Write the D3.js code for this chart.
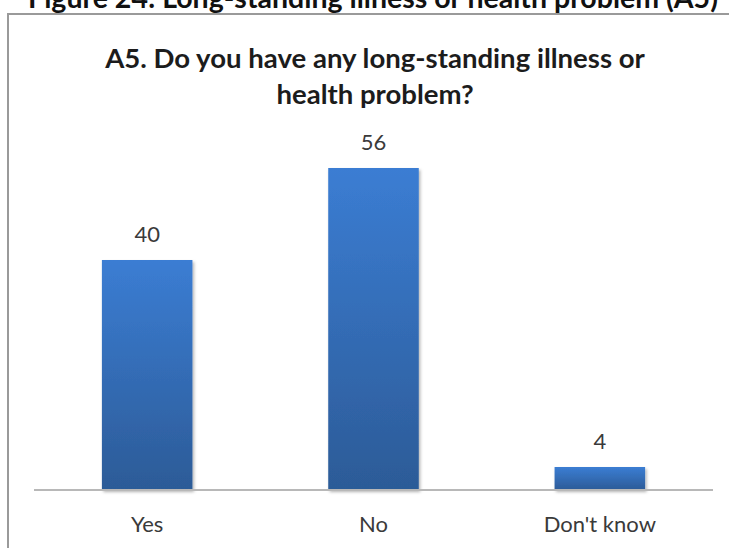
<!DOCTYPE html>
<html>
<head>
<meta charset="utf-8">
<script src="https://cdn.jsdelivr.net/npm/d3@7"></script>
<style>
  html, body { margin: 0; padding: 0; background: #fff; }
  svg { display: block; }
</style>
</head>
<body>
<div id="chart"></div>
<script>
// Survey responses, percent of respondents
const categories = ["Yes", "No", "Don't know"];
const values = [40, 56, 4];
const figureTitle = "Figure 24: Long-standing illness or health problem (A5)";
const titleLines = ["A5. Do you have any long-standing illness or", "health problem?"];

const W = 729, H = 548;
const FONT = "Lato, 'Open Sans', 'DejaVu Sans', sans-serif";

const svg = d3.select("#chart").append("svg")
  .attr("width", W).attr("height", H);

const defs = svg.append("defs");
const grad = defs.append("linearGradient")
  .attr("id", "barGrad").attr("x1", 0).attr("y1", 0).attr("x2", 0).attr("y2", 1);
grad.append("stop").attr("offset", "0%").attr("stop-color", "#3b7dd3");
grad.append("stop").attr("offset", "100%").attr("stop-color", "#2c5b97");

const shadow = defs.append("filter").attr("id", "barShadow")
  .attr("x", "-10%").attr("y", "-10%").attr("width", "130%").attr("height", "130%");
shadow.append("feDropShadow")
  .attr("dx", 1.5).attr("dy", 2).attr("stdDeviation", 1.5)
  .attr("flood-color", "#000").attr("flood-opacity", 0.3);

// Scale a text element's font size so that it spans the given width
function fitWidth(sel, target, base) {
  sel.attr("font-size", base);
  const w = sel.node().getComputedTextLength();
  sel.attr("font-size", base * target / w);
  return sel;
}

// Figure caption above the frame (its upper part runs past the page top)
fitWidth(
  svg.append("text")
    .attr("x", 373).attr("y", 8)
    .attr("text-anchor", "middle")
    .attr("font-family", FONT).attr("font-weight", 700)
    .attr("fill", "#111")
    .text(figureTitle),
  690, 20);

// Chart frame: only its top and left edges fall inside the page
svg.append("rect")
  .attr("x", 8).attr("y", 14)
  .attr("width", W + 20).attr("height", H + 20)
  .attr("fill", "none").attr("stroke", "#9a9a9a").attr("stroke-width", 2);

// Chart title
const titleWidths = [540, 197];
const titleBaselines = [68, 104];
const t1 = svg.append("text")
  .attr("x", 375).attr("y", titleBaselines[0])
  .attr("text-anchor", "middle")
  .attr("font-family", FONT).attr("font-weight", 700)
  .attr("fill", "#1c1c1c")
  .text(titleLines[0]);
fitWidth(t1, titleWidths[0], 24);
const titleSize = +t1.attr("font-size");
svg.append("text")
  .attr("x", 375).attr("y", titleBaselines[1])
  .attr("text-anchor", "middle")
  .attr("font-family", FONT).attr("font-weight", 700)
  .attr("font-size", titleSize)
  .attr("fill", "#1c1c1c")
  .text(titleLines[1]);

// Plot area
const plot = { left: 34, right: 713, top: 100, bottom: 490 };

const x = d3.scaleBand()
  .domain(categories)
  .range([plot.left, plot.right])
  .paddingInner(0.6)
  .paddingOuter(0.3);

const y = d3.scaleLinear()
  .domain([0, 56])
  .range([plot.bottom, 168]);

// Bars
svg.append("g").selectAll("rect")
  .data(values)
  .join("rect")
  .attr("x", (d, i) => x(categories[i]))
  .attr("y", d => y(d))
  .attr("width", x.bandwidth())
  .attr("height", d => y(0) - y(d))
  .attr("fill", "url(#barGrad)")
  .attr("filter", "url(#barShadow)");

// Category axis
const xAxis = svg.append("g")
  .attr("transform", `translate(0,${plot.bottom})`)
  .call(d3.axisBottom(x).tickSize(0).tickPadding(34));
xAxis.select(".domain")
  .attr("d", `M${plot.left},0H${plot.right}`)
  .attr("stroke", "#b8b8b8").attr("stroke-width", 2);
xAxis.selectAll("text")
  .attr("font-family", FONT)
  .attr("font-size", 22)
  .attr("fill", "#3a3a3a")
  .attr("dy", "0.35em");

// Value labels above bars
svg.append("g").selectAll("text")
  .data(values)
  .join("text")
  .attr("x", (d, i) => x(categories[i]) + x.bandwidth() / 2)
  .attr("y", d => y(d) - 18)
  .attr("text-anchor", "middle")
  .attr("font-family", FONT)
  .attr("font-size", 22)
  .attr("fill", "#3a3a3a")
  .text(d => d);
</script>
</body>
</html>
